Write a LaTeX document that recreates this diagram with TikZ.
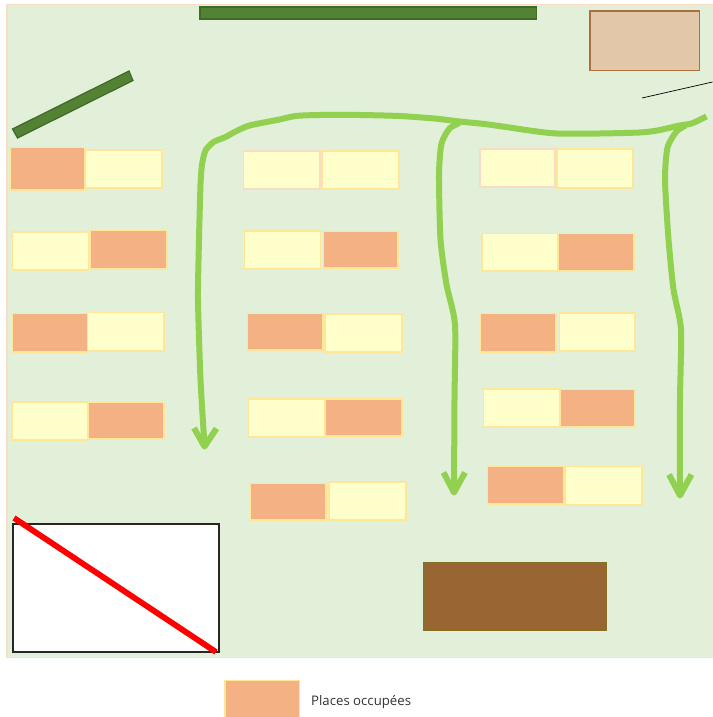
\documentclass[tikz,border=0pt]{standalone}
\usepackage{fontspec}
\setmainfont{Open Sans}
\definecolor{lawn}{HTML}{E2EFD9}
\definecolor{lawnedge}{HTML}{F8DCC6}
\definecolor{freefill}{HTML}{FFFFCC}
\definecolor{slotedge}{HTML}{FFE699}
\definecolor{takenfill}{HTML}{F4B183}
\definecolor{hedge}{HTML}{548235}
\definecolor{hedgeedge}{HTML}{3F6A2A}
\definecolor{tanfill}{HTML}{E2C7A8}
\definecolor{tanedge}{HTML}{A9713B}
\definecolor{woodfill}{HTML}{996633}
\definecolor{woodedge}{HTML}{85702A}
\definecolor{route}{HTML}{92D050}
\tikzset{
  freeslot/.style={fill=freefill,draw=slotedge,line width=1.2pt},
  pinkslot/.style={fill=freefill,draw=lawnedge,line width=1.4pt},
  takenslot/.style={fill=takenfill,draw=slotedge,line width=1.2pt},
  hedgebar/.style={fill=hedge,draw=hedgeedge,line width=1.2pt},
  routeline/.style={draw=route,line width=6pt,line join=round},
}
\begin{document}
\begin{tikzpicture}[x=1pt,y=-1pt]
\useasboundingbox (0,0) rectangle (712,717);
\fill[white] (0,0) rectangle (712,717);
\begin{scope}[shift={(-.5,-.5)}]
\draw[fill=lawn,draw=lawnedge,line width=1.4pt] (7.5,5) rectangle (716,658);
% hedges and buildings
\draw[hedgebar] (200.5,7.5) rectangle (537,19.5);
\draw[hedgebar] (13,129.5) -- (129.5,71.5) -- (133.5,81) -- (18,138.5) -- cycle;
\draw[fill=tanfill,draw=tanedge,line width=1.2pt] (590.5,11.5) rectangle (700,71);
\draw[black,line width=.7pt] (642.5,98.5) -- (713,82.5);
% column 1
\draw[takenslot] (10.5,148) rectangle (85.5,190.5);
\draw[freeslot] (86,150.5) rectangle (162.5,188.5);
\draw[freeslot] (13,232.5) rectangle (89,270.5);
\draw[takenslot] (91,231) rectangle (167.5,269.5);
\draw[takenslot] (13,314) rectangle (88,352.5);
\draw[freeslot] (88,313) rectangle (164.5,351.5);
\draw[freeslot] (12.5,402.5) rectangle (88,440.5);
\draw[takenslot] (88.5,403) rectangle (164.5,439.5);
% column 2
\draw[pinkslot] (244,151.5) rectangle (320.5,189.5);
\draw[freeslot] (322.5,151.5) rectangle (399.5,189.5);
\draw[freeslot] (245,231.5) rectangle (321,269.5);
\draw[takenslot] (324,232) rectangle (398.5,268.5);
\draw[takenslot] (248,314) rectangle (323.5,350.5);
\draw[freeslot] (325.5,314.5) rectangle (402.5,352.5);
\draw[freeslot] (249,399.5) rectangle (325.5,437.5);
\draw[takenslot] (326,399.5) rectangle (402.5,436.5);
\draw[takenslot] (251,484) rectangle (326.5,520.5);
\draw[freeslot] (329.5,482.5) rectangle (406.5,520.5);
% column 3
\draw[pinkslot] (480.5,149.5) rectangle (555.5,187.5);
\draw[freeslot] (557.5,149.5) rectangle (633.5,188.5);
\draw[freeslot] (482.5,234) rectangle (558.5,271.5);
\draw[takenslot] (558.5,234) rectangle (634.5,271.5);
\draw[takenslot] (481,314) rectangle (556.5,352.5);
\draw[freeslot] (560,313.5) rectangle (635.5,351.5);
\draw[freeslot] (484,389.5) rectangle (560.5,427.5);
\draw[takenslot] (561,390) rectangle (635.5,427.5);
\draw[takenslot] (488,467) rectangle (564.5,504.5);
\draw[freeslot] (566,467) rectangle (642.5,505.5);
% bottom
\draw[fill=woodfill,draw=woodedge,line width=1.2pt] (424.5,563) rectangle (606.5,630.5);
\draw[fill=white,draw=black!85,line width=1.1pt] (13.5,524.5) rectangle (219.5,652.5);
\draw[red,line width=5.8pt] (14.5,518.5) -- (216.5,652.5);
% routes
\draw[routeline] plot[smooth,tension=.4] coordinates {(707,117) (692,124) (680,126) (658,131) (640,133) (600,134) (557,134) (530,131) (510,128) (485,124.5) (460,122) (435,119) (400,116.5) (360,115.5) (320,115.5) (296,116.5) (280,120) (250,126) (236,132) (226,137.5) (214,142.5) (206,151) (202.5,165) (201,185) (199.5,240) (198.5,300) (201,380) (205,446)};
\draw[routeline] (194.5,428.5) -- (205,447) -- (217,429);
\draw[routeline] plot[smooth,tension=.4] coordinates {(460,123.5) (450,129) (442,144) (439.5,175) (441,240) (447,285) (455.5,325) (455,400) (454.5,492)};
\draw[routeline] (444,473) -- (454.5,493) -- (465.5,473);
\draw[routeline] plot[smooth,tension=.4] coordinates {(686,126) (677,132) (668,148) (665.5,180) (669,240) (674,290) (681.5,330) (680.5,400) (680.5,495)};
\draw[routeline] (669.5,475) -- (680.5,496) -- (692,475);
% legend
\draw[takenslot] (225.5,681) rectangle (300,719);
\node[anchor=west,inner sep=0pt,font=\fontsize{13.2}{16}\selectfont,text=black!80] (legendtext) at (311.5,703) {Places occupées};
\end{scope}
\end{tikzpicture}
\end{document}
